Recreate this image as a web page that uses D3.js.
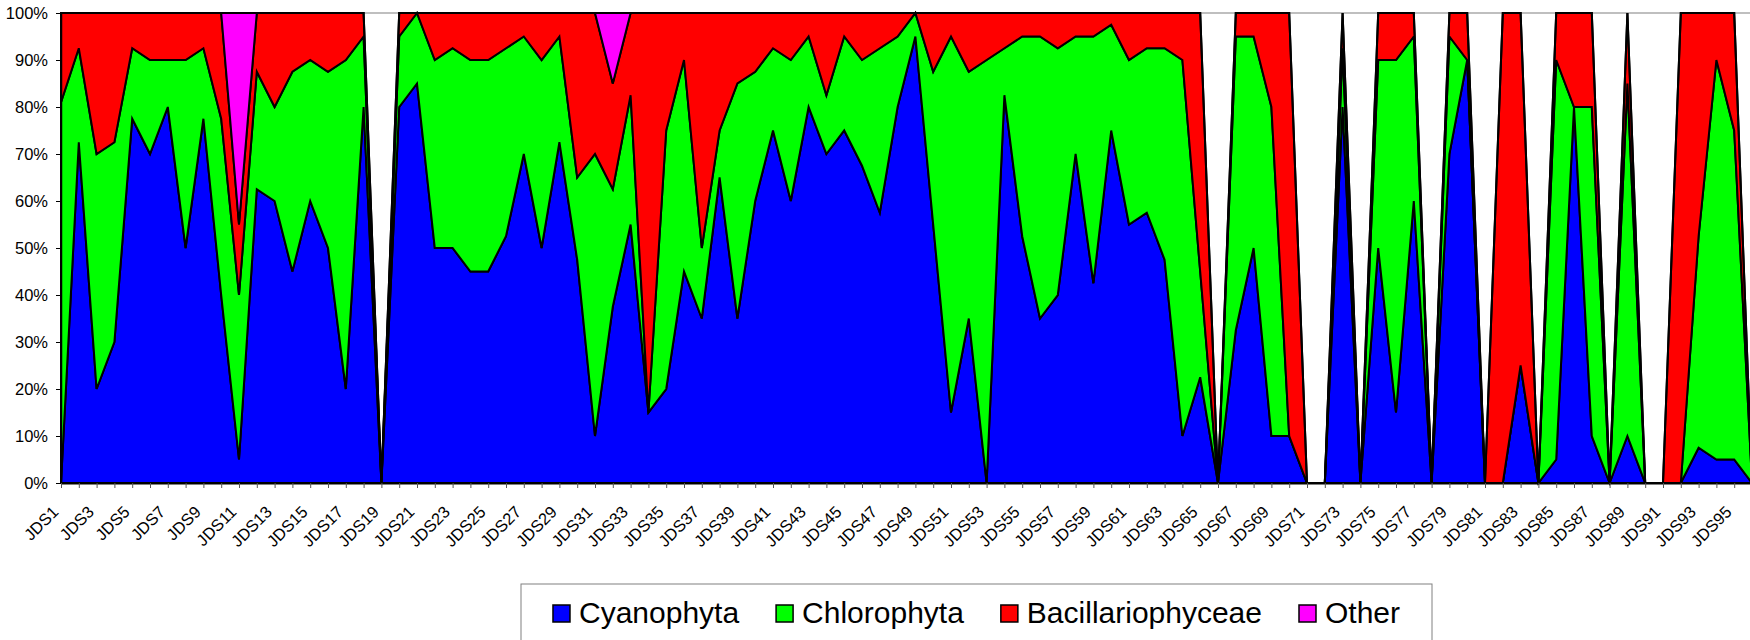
<!DOCTYPE html>
<html>
<head>
<meta charset="utf-8">
<script src="https://cdn.jsdelivr.net/npm/d3@7"></script>
<style>
  body { margin: 0; background: #fff; }
  svg { display: block; font-family: Arial, "Liberation Sans", sans-serif; }
</style>
</head>
<body>
<div id="chart"></div>
<script>
// sample sites JDS1..JDS96
const categories = d3.range(1, 97).map(i => "JDS" + i);

// percentages, per site
const cyanophyta = [
  0, 72.5, 20, 30, 77.5, 70, 80, 50, 77.5, 40,
  5, 62.5, 60, 45, 60, 50, 20, 80, 0, 80,
  85, 50, 50, 45, 45, 52.5, 70, 50, 72.5, 47.5,
  10, 37.5, 55, 15, 20, 45, 35, 65, 35, 60,
  75, 60, 80, 70, 75, 67.5, 57.5, 80, 95, 55,
  15, 35, 0, 82.5, 52.5, 35, 40, 70, 42.5, 75,
  55, 57.5, 47.5, 10, 22.5, 0, 32.5, 50, 10, 10,
  0, 0, 80, 0, 50, 15, 60, 0, 70, 90,
  0, 0, 25, 0, 5, 80, 10, 0, 10, 0,
  0, 0, 7.5, 5, 5, 0
];
const chlorophyta = [
  81, 20, 50, 42.5, 15, 20, 10, 40, 15, 37.5,
  35, 25, 20, 42.5, 30, 37.5, 70, 15, 0, 15,
  15, 40, 42.5, 45, 45, 40, 25, 40, 22.5, 17.5,
  60, 25, 27.5, 0, 55, 45, 15, 10, 50, 27.5,
  17.5, 30, 15, 12.5, 20, 22.5, 35, 15, 5, 32.5,
  80, 52.5, 90, 10, 42.5, 60, 52.5, 25, 52.5, 22.5,
  35, 35, 45, 80, 22.5, 0, 62.5, 45, 70, 0,
  0, 0, 12.5, 0, 40, 75, 35, 0, 25, 0,
  0, 0, 0, 0, 85, 0, 70, 0, 75, 0,
  0, 0, 45, 85, 70, 0
];
const bacillariophyceae = [
  19, 7.5, 30, 27.5, 7.5, 10, 10, 10, 7.5, 22.5,
  15, 12.5, 20, 12.5, 10, 12.5, 10, 5, 0, 5,
  0, 10, 7.5, 10, 10, 7.5, 5, 10, 5, 35,
  30, 22.5, 17.5, 85, 25, 10, 50, 25, 15, 12.5,
  7.5, 10, 5, 17.5, 5, 10, 7.5, 5, 0, 12.5,
  5, 12.5, 10, 7.5, 5, 5, 7.5, 5, 5, 2.5,
  10, 7.5, 7.5, 10, 55, 0, 5, 5, 20, 90,
  0, 0, 7.5, 0, 10, 10, 5, 0, 5, 10,
  0, 100, 75, 0, 10, 20, 20, 0, 15, 0,
  0, 100, 47.5, 10, 25, 0
];
const other = [
  0, 0, 0, 0, 0, 0, 0, 0, 0, 0,
  45, 0, 0, 0, 0, 0, 0, 0, 0, 0,
  0, 0, 0, 0, 0, 0, 0, 0, 0, 0,
  0, 15, 0, 0, 0, 0, 0, 0, 0, 0,
  0, 0, 0, 0, 0, 0, 0, 0, 0, 0,
  0, 0, 0, 0, 0, 0, 0, 0, 0, 0,
  0, 0, 0, 0, 0, 0, 0, 0, 0, 0,
  0, 0, 0, 0, 0, 0, 0, 0, 0, 0,
  0, 0, 0, 0, 0, 0, 0, 0, 0, 0,
  0, 0, 0, 0, 0, 0
];

const seriesNames = ["Cyanophyta", "Chlorophyta", "Bacillariophyceae", "Other"];
const seriesValues = [cyanophyta, chlorophyta, bacillariophyceae, other];
const seriesColors = ["#0000FF", "#00FF00", "#FF0000", "#FF00FF"];
const yTicks = [0, 0.1, 0.2, 0.3, 0.4, 0.5, 0.6, 0.7, 0.8, 0.9, 1];

const width = 1750;
const height = 640;
const plotLeft = 61;
const plotTop = 13;
const plotBottom = 483;
const step = 17.8;

const svg = d3.select("#chart")
    .append("svg")
    .attr("width", width)
    .attr("height", height);

const x = d3.scalePoint()
    .domain(categories)
    .range([plotLeft, plotLeft + step * (categories.length - 1)]);

const y = d3.scaleLinear()
    .domain([0, 1])
    .range([plotBottom, plotTop]);

// table for the stack
const rows = categories.map((c, i) => {
    const row = { cat: c };
    seriesNames.forEach((s, k) => { row[s] = seriesValues[k][i]; });
    return row;
});

const layers = d3.stack()
    .keys(seriesNames)
    .offset(d3.stackOffsetExpand)(rows);

// plot area border
svg.append("rect")
    .attr("x", plotLeft)
    .attr("y", plotTop)
    .attr("width", width - plotLeft + 10)
    .attr("height", plotBottom - plotTop)
    .attr("fill", "#fff")
    .attr("stroke", "#808080")
    .attr("stroke-width", 1);

const area = d3.area()
    .x(d => x(d.data.cat))
    .y0(d => y(d[0]))
    .y1(d => y(d[1]));

svg.append("g")
    .selectAll("path")
    .data(layers)
    .enter()
    .append("path")
    .attr("d", area)
    .attr("fill", (d, i) => seriesColors[i])
    .attr("stroke", "#000")
    .attr("stroke-width", 2)
    .attr("stroke-linejoin", "miter");

// y axis
const yAxis = svg.append("g")
    .attr("transform", `translate(${plotLeft},0)`)
    .call(d3.axisLeft(y)
        .tickValues(yTicks)
        .tickFormat(d3.format(".0%"))
        .tickSize(5)
        .tickSizeOuter(0)
        .tickPadding(8));
yAxis.select(".domain").attr("stroke", "#000").attr("stroke-width", 1.5);
yAxis.selectAll("text")
    .attr("font-size", "16.5px")
    .attr("font-family", "Arial, 'Liberation Sans', sans-serif")
    .attr("fill", "#000");

// x axis, label every other site
const xAxis = svg.append("g")
    .attr("transform", `translate(0,${plotBottom})`)
    .call(d3.axisBottom(x)
        .tickSize(5)
        .tickSizeOuter(0)
        .tickFormat((d, i) => i % 2 === 0 ? d : ""));
xAxis.select(".domain").attr("stroke", "#000").attr("stroke-width", 2);
xAxis.selectAll(".tick line").attr("stroke", "#555");
xAxis.selectAll("text")
    .attr("font-size", "16.5px")
    .attr("font-family", "Arial, 'Liberation Sans', sans-serif")
    .attr("fill", "#000")
    .attr("text-anchor", "end")
    .attr("x", 0)
    .attr("y", 0)
    .attr("dy", 0)
    .attr("transform", "translate(-2,30) rotate(-45)");

// legend
const legendBox = { x: 521, y: 584, w: 911, h: 80 };
svg.append("rect")
    .attr("x", legendBox.x)
    .attr("y", legendBox.y)
    .attr("width", legendBox.w)
    .attr("height", legendBox.h)
    .attr("fill", "#fff")
    .attr("stroke", "#808080")
    .attr("stroke-width", 1);

const legend = svg.append("g");
let lx = 0;
seriesNames.forEach((name, i) => {
    const item = legend.append("g").attr("transform", `translate(${lx},0)`);
    item.append("rect")
        .attr("x", 0)
        .attr("y", 605)
        .attr("width", 17)
        .attr("height", 17)
        .attr("fill", seriesColors[i])
        .attr("stroke", "#000")
        .attr("stroke-width", 1.5);
    const t = item.append("text")
        .attr("x", 26)
        .attr("y", 623)
        .attr("font-size", "30px")
        .attr("fill", "#000")
        .text(name);
    lx += 26 + t.node().getComputedTextLength() + 37;
});
const legendWidth = lx - 37;
legend.attr("transform", `translate(${legendBox.x + (legendBox.w - legendWidth) / 2},0)`);
</script>
</body>
</html>
